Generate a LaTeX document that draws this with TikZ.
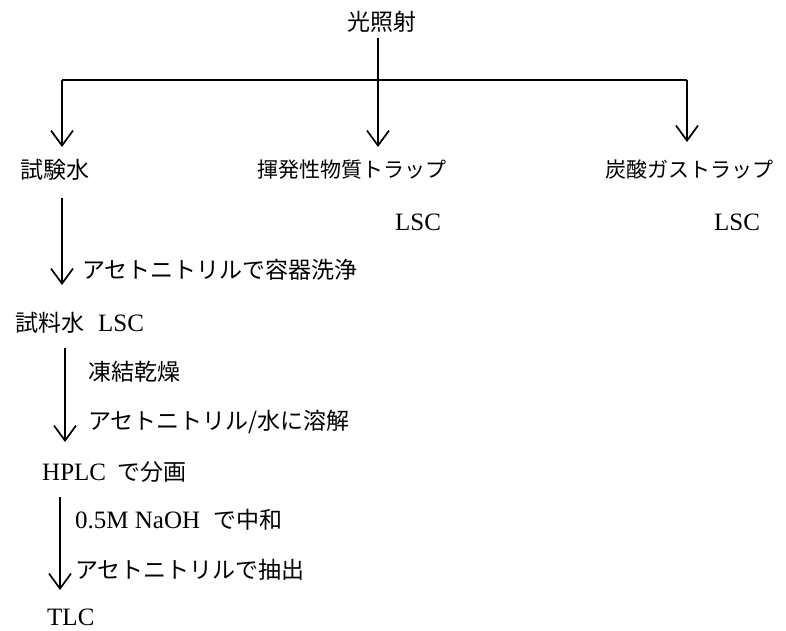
\documentclass[tikz,border=0pt]{standalone}
\usepackage{fontspec}
\setmainfont{Liberation Serif}
\newfontfamily\jpfont{Noto Sans CJK JP}
\newcommand\J[1]{{\jpfont\fontsize{23}{27}\selectfont #1}}
\newcommand\Jn[1]{{\jpfont\fontsize{21}{25}\selectfont #1}}
\usetikzlibrary{arrows.meta}
\begin{document}
\begin{tikzpicture}[x=1pt,y=-1pt,
  lbl/.style={inner sep=0pt, font=\fontsize{25}{29}\selectfont},
  lft/.style={lbl, anchor=west},
  ln/.style={line width=1.7pt},
  arr/.style={line width=1.7pt, -{Straight Barb[length=15pt,width=22pt,line width=1.7pt]}}]
\useasboundingbox (0,0) rectangle (786,630);
\fill[white] (0,0) rectangle (786,630);
% top
\node[lbl] (src) at (382,22) {\J{光照射}};
\coordinate (top) at (378,38);
\coordinate (hl) at (62,80);
\coordinate (hr) at (687,80);
\coordinate (el) at (62,147);
\coordinate (em) at (378,147);
\coordinate (er) at (687,142);
\draw[ln] (hl) -- (hr);
\draw[arr] (top) -- (em);
\draw[arr] (hl) -- (el);
\draw[arr] (hr) -- (er);
% second row
\node[lft] (w1) at (20,170) {\J{試験水}};
\node[lft] (vol) at (257,170) {\Jn{揮発性物質トラップ}};
\node[lft] (co2) at (605,170) {\Jn{炭酸ガストラップ}};
\node[lbl] (lsc1) at (418,222) {LSC};
\node[lbl] (lsc2) at (737,222) {LSC};
% step 1
\coordinate (a1s) at (62,198);
\coordinate (a1e) at (62,285);
\draw[arr] (a1s) -- (a1e);
\node[lft] (t1) at (82,270) {\J{アセトニトリルで容器洗浄}};
\node[lft] (w2) at (15,323) {\J{試料水}\hspace{14pt}LSC};
% step 2
\coordinate (a2s) at (65,348);
\coordinate (a2e) at (65,442);
\draw[arr] (a2s) -- (a2e);
\node[lft] (t2) at (88,372) {\J{凍結乾燥}};
\node[lft] (t3) at (88,422) {\J{アセトニトリル/水に溶解}};
\node[lft] (hplc) at (42,472) {HPLC\hspace{11pt}\J{で分画}};
% step 3
\coordinate (a3s) at (60,497);
\coordinate (a3e) at (60,590);
\draw[arr] (a3s) -- (a3e);
\node[lft] (t4) at (75,520) {0.5M NaOH\hspace{13pt}\J{で中和}};
\node[lft] (t5) at (75,570) {\J{アセトニトリルで抽出}};
\node[lft] (tlc) at (47,617) {TLC};
\end{tikzpicture}
\end{document}
